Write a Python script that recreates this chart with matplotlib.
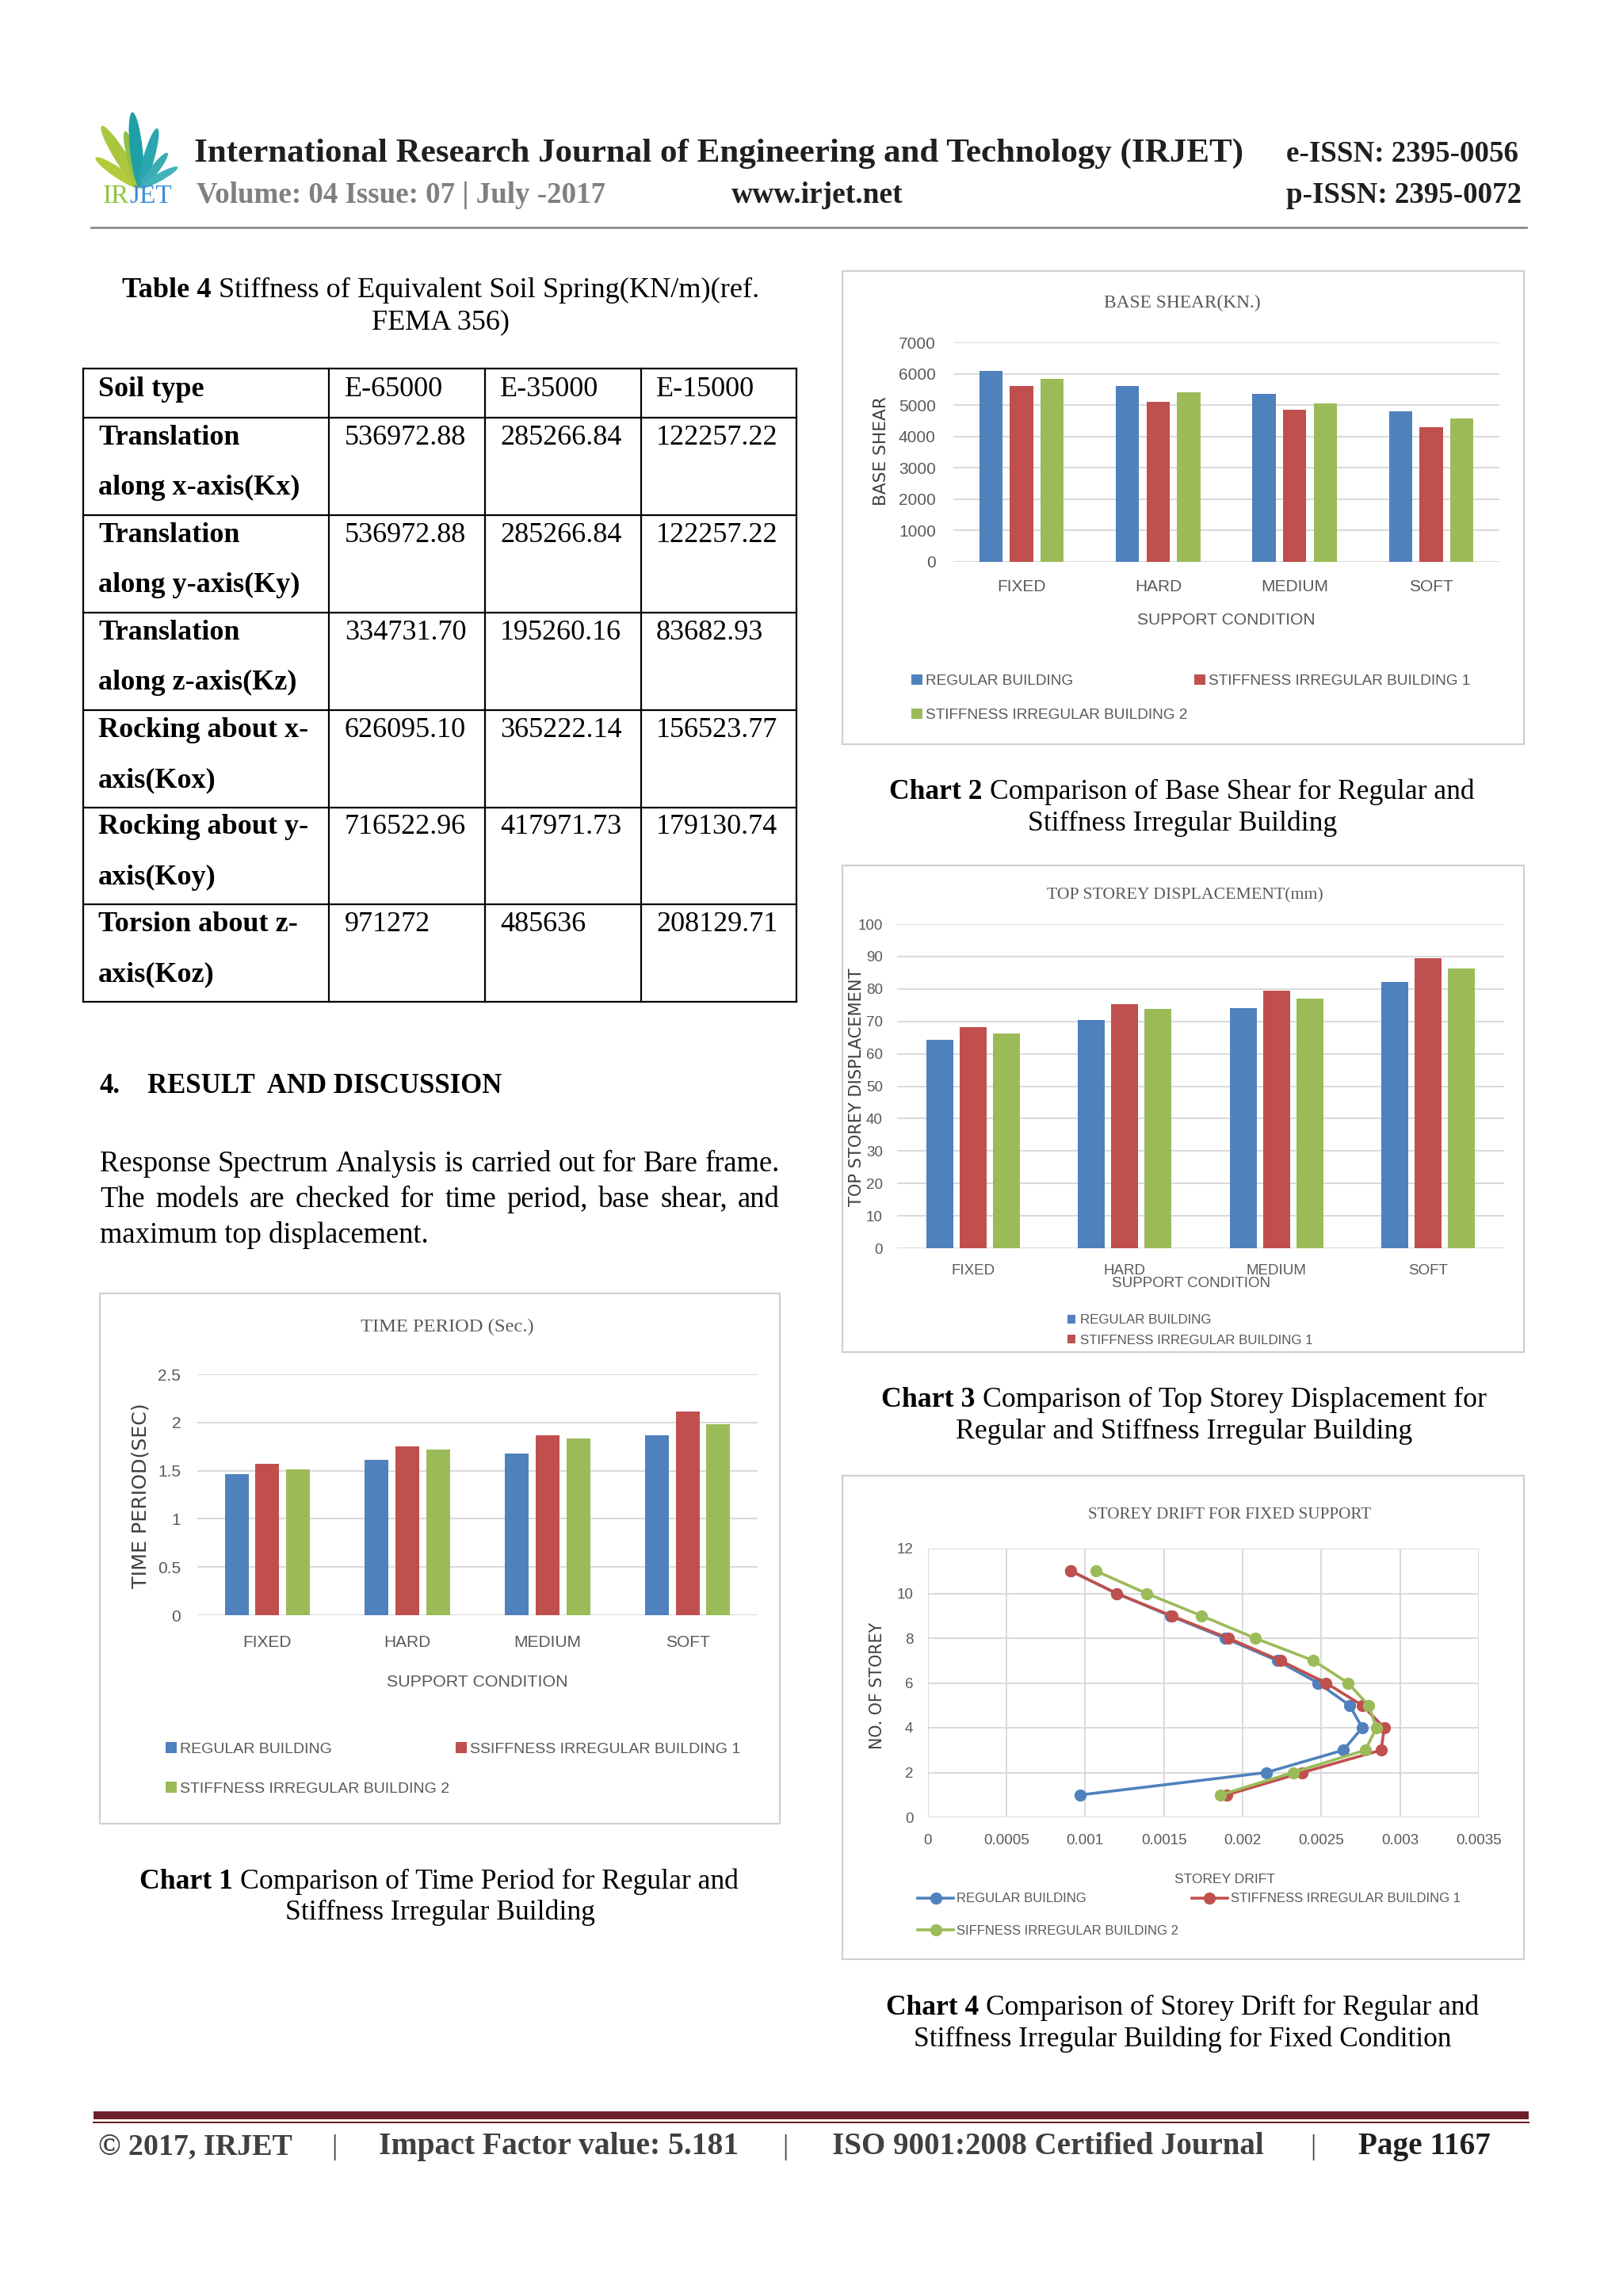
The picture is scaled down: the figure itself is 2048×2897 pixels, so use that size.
import numpy as np
import matplotlib.pyplot as plt
from matplotlib.patches import Rectangle, Ellipse
from matplotlib.lines import Line2D

plt.rcParams['font.family'] = ['Liberation Sans', 'DejaVu Sans']
SERIF = ['Liberation Serif', 'DejaVu Serif']
WIDE = ['DejaVu Sans']

# ---------------- data ----------------
categories = ['FIXED', 'HARD', 'MEDIUM', 'SOFT']

period_regular = [1.46, 1.61, 1.68, 1.87]
period_irr1 = [1.57, 1.75, 1.87, 2.11]
period_irr2 = [1.51, 1.72, 1.83, 1.98]
period_ticks = [0, 0.5, 1, 1.5, 2, 2.5]
period_labels = ['0', '0.5', '1', '1.5', '2', '2.5']

shear_regular = [6100, 5620, 5350, 4810]
shear_irr1 = [5620, 5110, 4850, 4300]
shear_irr2 = [5830, 5420, 5050, 4570]
shear_ticks = [0, 1000, 2000, 3000, 4000, 5000, 6000, 7000]

disp_regular = [64.3, 70.4, 74.1, 82.1]
disp_irr1 = [68.2, 75.4, 79.4, 89.4]
disp_irr2 = [66.2, 73.8, 77.0, 86.3]
disp_ticks = [0, 10, 20, 30, 40, 50, 60, 70, 80, 90, 100]

storeys = [1, 2, 3, 4, 5, 6, 7, 8, 9, 10, 11]
drift_regular = [0.00097, 0.00215, 0.00264, 0.00276, 0.00268, 0.00248,
                 0.00222, 0.00189, 0.00154, 0.00120, 0.00091]
drift_irr1 = [0.00190, 0.00238, 0.00288, 0.00290, 0.00276, 0.00253,
              0.00224, 0.00191, 0.00155, 0.00120, 0.00091]
drift_irr2 = [0.00186, 0.00232, 0.00278, 0.00285, 0.00280, 0.00267,
              0.00245, 0.00208, 0.00174, 0.00139, 0.00107]
drift_ticks = [0, 0.0005, 0.001, 0.0015, 0.002, 0.0025, 0.003, 0.0035]
drift_labels = ['0', '0.0005', '0.001', '0.0015', '0.002', '0.0025', '0.003', '0.0035']
storey_ticks = [0, 2, 4, 6, 8, 10, 12]

soil_header = ['Soil type', 'E-65000', 'E-35000', 'E-15000']
soil_labels = [('Translation', 'along x-axis(Kx)'),
               ('Translation', 'along y-axis(Ky)'),
               ('Translation', 'along z-axis(Kz)'),
               ('Rocking about x-', 'axis(Kox)'),
               ('Rocking about y-', 'axis(Koy)'),
               ('Torsion about z-', 'axis(Koz)')]
soil_e65 = ['536972.88', '536972.88', '334731.70', '626095.10', '716522.96', '971272']
soil_e35 = ['285266.84', '285266.84', '195260.16', '365222.14', '417971.73', '485636']
soil_e15 = ['122257.22', '122257.22', '83682.93', '156523.77', '179130.74', '208129.71']

BLUE, RED, GREEN = '#4f81bd', '#c0504d', '#9bbb59'
GRID = '#d9d9d9'
TXT = '#595959'

# ---------------- page ----------------
W, H = 2048, 2897
fig = plt.figure(figsize=(W / 100, H / 100), dpi=100)
fig.patch.set_facecolor('white')
renderer = fig.canvas.get_renderer()


def box(x0, y0, x1, y1):
    return [x0 / W, 1 - y1 / H, (x1 - x0) / W, (y1 - y0) / H]


def put(x, y, s, size=20, fit=None, **kw):
    kw.setdefault('family', SERIF)
    t = fig.text(x / W, 1 - y / H, s, fontsize=size, **kw)
    if fit:
        bb = t.get_window_extent(renderer)
        length = bb.height if kw.get('rotation') == 90 else bb.width
        t.set_fontsize(size * fit / length)
    return t


def hline(x0, x1, y, **kw):
    fig.add_artist(Line2D([x0 / W, x1 / W], [1 - y / H, 1 - y / H], **kw))


def vline(x, y0, y1, **kw):
    fig.add_artist(Line2D([x / W, x / W], [1 - y0 / H, 1 - y1 / H], **kw))


def caption(xc, y1, y2, bold, line1, line2, width):
    a = put(0, y1, bold, 20, weight='bold', va='baseline')
    b = put(0, y1, line1, 20, va='baseline')
    wa = a.get_window_extent(renderer).width
    wb = b.get_window_extent(renderer).width
    gap = 0.25 * 20 / 72 * 100
    k = width / (wa + wb + gap)
    a.set_fontsize(20 * k)
    b.set_fontsize(20 * k)
    x0 = xc - width / 2
    a.set_x(x0 / W)
    b.set_x((x0 + (wa + gap) * k) / W)
    put(xc, y2, line2, 20 * k, ha='center', va='baseline')


def justify(x0, x1, y, s, size, **kw):
    words = s.split()
    texts = [put(0, y, w, size, va='baseline', **kw) for w in words]
    widths = [t.get_window_extent(renderer).width for t in texts]
    gap = (x1 - x0 - sum(widths)) / (len(words) - 1)
    x = x0
    for t, w in zip(texts, widths):
        t.set_x(x / W)
        x += w + gap


# logo
lax = fig.add_axes(box(110, 140, 240, 242))
lax.set_xlim(110, 240)
lax.set_ylim(H - 242, H - 140)
lax.axis('off')
bx, by = 177, H - 237
leaves = [(146, 68, 13, '#b3cb3a'), (122, 92, 16, '#a9c63e'), (105, 74, 13, '#8fbf45'),
          (96, 96, 16, '#1f9fa6'), (74, 78, 14, '#2aa6ae'), (52, 56, 11, '#38adb5'),
          (29, 54, 10, '#43b3bb')]
for ang, L, w, c in leaves:
    r = np.deg2rad(ang)
    lax.add_patch(Ellipse((bx + L / 2 * np.cos(r), by + L / 2 * np.sin(r)), L, w,
                          angle=ang, color=c, lw=0))
t_ir = put(130, 256, 'IR', 18, color='#8dc63f', va='baseline')
t_jet = put(130, 256, 'JET', 18, color='#3c8ed8', va='baseline')
w_ir = t_ir.get_window_extent(renderer).width
w_jet = t_jet.get_window_extent(renderer).width
k_logo = 87 / (w_ir + w_jet)
t_ir.set_fontsize(18 * k_logo)
t_jet.set_fontsize(18 * k_logo)
t_jet.set_x((130 + w_ir * k_logo) / W)

# header
put(245, 204, 'International Research Journal of Engineering and Technology (IRJET)', 26,
    fit=1328, weight='bold', color='#1f1f1f', va='baseline')
put(1623, 204, 'e-ISSN: 2395-0056', 22, fit=292, weight='bold', color='#1f1f1f', va='baseline')
put(248, 256, 'Volume: 04 Issue: 07 | July -2017', 22, fit=516, weight='bold', color='#808080',
    va='baseline')
put(923, 256, 'www.irjet.net', 22, fit=217, weight='bold', color='#1f1f1f', va='baseline')
put(1623, 256, 'p-ISSN: 2395-0072', 22, fit=296, weight='bold', color='#1f1f1f', va='baseline')
hline(115, 1926, 287, color='#8c8c8c', lw=2)

# table
caption(556, 375, 415, 'Table 4', 'Stiffness of Equivalent Soil Spring(KN/m)(ref.', 'FEMA 356)', 804)
col_x = [105, 415, 612, 809, 1005]
row_y = [464.5, 527, 650, 773, 896, 1018.5, 1141, 1264]
text_x = [124, 435, 631, 828]
for x in col_x:
    vline(x, row_y[0], row_y[-1], color='black', lw=1.6)
for y in row_y:
    hline(col_x[0], col_x[-1], y, color='black', lw=1.6)
put(text_x[0], 500, soil_header[0], 26, weight='bold', va='baseline')
for j in range(1, 4):
    put(text_x[j], 500, soil_header[j], 26, va='baseline')
for i, (l1, l2) in enumerate(soil_labels):
    top = row_y[i + 1]
    put(text_x[0], top + 34, l1, 26, weight='bold', va='baseline')
    put(text_x[0], top + 97, l2, 26, weight='bold', va='baseline')
    for j, col in enumerate([soil_e65, soil_e35, soil_e15]):
        put(text_x[j + 1], top + 34, col[i], 26, va='baseline')

# section text
t_head = put(186, 1379, 'RESULT  AND DISCUSSION', 24, fit=448, weight='bold', va='baseline')
put(126, 1379, '4.', t_head.get_fontsize(), weight='bold', va='baseline')
p1 = 'Response Spectrum Analysis is carried out for Bare frame.'
p2 = 'The models are checked for time period, base shear, and'
p3 = 'maximum top displacement.'
probe = put(0, 0, p1, 20, fit=858)
psize = probe.get_fontsize()
probe.remove()
justify(126, 984, 1478, p1, psize)
justify(126, 984, 1523, p2, psize)
put(126, 1568, p3, psize, va='baseline')


# ---------------- charts ----------------
def frame(x0, y0, x1, y1):
    fig.add_artist(Rectangle((x0 / W, 1 - y1 / H), (x1 - x0) / W, (y1 - y0) / H,
                             transform=fig.transFigure, fill=False, ec='#d0d0d0', lw=1.6))


def style(ax, fs, ypad, xpad):
    for s in ax.spines.values():
        s.set_visible(False)
    ax.set_axisbelow(True)
    ax.patch.set_alpha(0)
    ax.tick_params(length=0, labelsize=fs, labelcolor=TXT)
    ax.tick_params(axis='y', pad=ypad)
    ax.tick_params(axis='x', pad=xpad)


def bar_chart(pos, series, ylim, yticks, ylabels, fs, ypad, xpad, width, off):
    ax = fig.add_axes(pos)
    x = np.arange(len(categories))
    bars = []
    for i, (vals, col) in enumerate(zip(series, [BLUE, RED, GREEN])):
        bars.append(ax.bar(x + (i - 1) * off, vals, width, color=col))
    ax.set_xlim(-0.5, len(categories) - 0.5)
    ax.set_ylim(*ylim)
    ax.set_yticks(yticks, ylabels)
    ax.set_xticks(x, categories)
    ax.grid(axis='y', color=GRID, lw=1.4)
    style(ax, fs, ypad, xpad)
    return ax, bars


def legend(ax, handles, labels, x, y, fs, ncol, **kw):
    ax.legend(handles, labels, loc='center left', bbox_to_anchor=(x / W, 1 - y / H),
              bbox_transform=fig.transFigure, ncol=ncol, frameon=False, borderpad=0,
              borderaxespad=0, prop={'size': fs}, labelcolor=TXT, **kw)


# chart 1: time period
frame(125.5, 1632, 984, 2301)
ax1, b1 = bar_chart(box(249, 1734, 956, 2038), [period_regular, period_irr1, period_irr2],
                    (0, 2.5), period_ticks, period_labels, 15, 15, 18, 0.17, 0.219)
put(564, 1674, 'TIME PERIOD (Sec.)', 18, fit=219, color=TXT, ha='center', va='center')
put(602, 2122, 'SUPPORT CONDITION', 15, fit=229, family=None, color=TXT, ha='center', va='center')
put(177, 1887, 'TIME PERIOD(SEC)', 15, fit=233, family=WIDE, color='#404040', rotation=90,
    ha='center', va='center')
legend(ax1, [b1[0], b1[2], b1[1]],
       ['REGULAR BUILDING', 'STIFFNESS IRREGULAR BUILDING 2', 'SSIFFNESS IRREGULAR BUILDING 1'],
       209, 2232, 14, 2, labelspacing=1.66, handlelength=0.72, handleheight=0.72,
       handletextpad=0.2, columnspacing=0.4)

# chart 2: base shear
frame(1063, 342, 1923, 939)
ax2, b2 = bar_chart(box(1203, 432, 1892, 709), [shear_regular, shear_irr1, shear_irr2],
                    (0, 7000), shear_ticks, [str(v) for v in shear_ticks], 15, 16, 15.6, 0.17, 0.224)
put(1492, 382, 'BASE SHEAR(KN.)', 18, fit=198, color=TXT, ha='center', va='center')
put(1547, 782, 'SUPPORT CONDITION', 15, fit=225, family=None, color=TXT, ha='center', va='center')
put(1112, 569, 'BASE SHEAR', 15, fit=138, family=WIDE, color='#404040', rotation=90,
    ha='center', va='center')
legend(ax2, [b2[0], b2[2], b2[1]],
       ['REGULAR BUILDING', 'STIFFNESS IRREGULAR BUILDING 2', 'STIFFNESS IRREGULAR BUILDING 1'],
       1150, 881, 13.7, 2, labelspacing=1.33, handlelength=0.72, handleheight=0.72,
       handletextpad=0.2, columnspacing=0.5)

# chart 3: top storey displacement
frame(1063, 1092, 1923, 1706)
ax3, b3 = bar_chart(box(1132, 1166, 1898, 1575), [disp_regular, disp_irr1, disp_irr2],
                    (0, 100), disp_ticks, [str(v) for v in disp_ticks], 13.5, 13, 14.4, 0.178, 0.219)
put(1495, 1130, 'TOP STOREY DISPLACEMENT(mm)', 18, fit=349, color=TXT, ha='center', va='center')
put(1503, 1619, 'SUPPORT CONDITION', 14, fit=201, family=None, color=TXT, ha='center', va='center')
put(1081, 1372, 'TOP STOREY DISPLACEMENT', 15, fit=302, family=WIDE, color='#404040', rotation=90,
    ha='center', va='center')
legend(ax3, [b3[0], b3[1]], ['REGULAR BUILDING', 'STIFFNESS IRREGULAR BUILDING 1'],
       1347, 1678.5, 12.2, 1, labelspacing=0.6, handlelength=0.6, handleheight=0.6,
       handletextpad=0.35)

# chart 4: storey drift
frame(1063, 1862, 1923, 2472)
ax4 = fig.add_axes(box(1170.5, 1954, 1866, 2293))
l1, = ax4.plot(drift_regular, storeys, color=BLUE, lw=2.6, marker='o', ms=10)
l2, = ax4.plot(drift_irr1, storeys, color=RED, lw=2.6, marker='o', ms=10)
l3, = ax4.plot(drift_irr2, storeys, color=GREEN, lw=2.6, marker='o', ms=10)
ax4.set_xlim(0, 0.0035)
ax4.set_ylim(0, 12)
ax4.set_xticks(drift_ticks, drift_labels)
ax4.set_yticks(storey_ticks, [str(v) for v in storey_ticks])
ax4.grid(True, color=GRID, lw=1.4)
style(ax4, 13.5, 13, 15)
put(1552, 1912, 'STOREY DRIFT FOR FIXED SUPPORT', 18, fit=359, color=TXT, ha='center', va='center')
put(1545, 2371, 'STOREY DRIFT', 14, fit=128, family=None, color=TXT, ha='center', va='center')
put(1107, 2127, 'NO. OF STOREY', 15, fit=161, family=WIDE, color='#404040', rotation=90,
    ha='center', va='center')
legend(ax4, [l1, l3, l2],
       ['REGULAR BUILDING', 'SIFFNESS IRREGULAR BUILDING 2', 'STIFFNESS IRREGULAR BUILDING 1'],
       1158, 2416, 12, 2, labelspacing=1.52, handlelength=2.7, handletextpad=0.25,
       columnspacing=1.0)

# captions
caption(555, 2383, 2422, 'Chart 1', 'Comparison of Time Period for Regular and',
        'Stiffness Irregular Building', 757)
caption(1492, 1008, 1048, 'Chart 2', 'Comparison of Base Shear for Regular and',
        'Stiffness Irregular Building', 739)
caption(1494, 1775, 1815, 'Chart 3', 'Comparison of Top Storey Displacement for',
        'Regular and Stiffness Irregular Building', 763)
caption(1492, 2542, 2582, 'Chart 4', 'Comparison of Storey Drift for Regular and',
        'Stiffness Irregular Building for Fixed Condition', 747)

# footer
fig.add_artist(Rectangle((118 / W, 1 - 2674 / H), (1929 - 118) / W, 10 / H,
                         transform=fig.transFigure, color='#6b2127', lw=0))
hline(118, 1929, 2678, color='#6b2127', lw=1.5)
put(124, 2718, '\u00a9 2017, IRJET', 24, fit=245, weight='bold', color='#404040', va='baseline')
put(478, 2718, 'Impact Factor value: 5.181', 24, fit=456, weight='bold', color='#404040', va='baseline')
put(1050, 2718, 'ISO 9001:2008 Certified Journal', 24, fit=545, weight='bold', color='#404040',
    va='baseline')
put(1714, 2718, 'Page 1167', 24, fit=167, weight='bold', color='#1f1f1f', va='baseline')
for x in [422, 991, 1657]:
    put(x, 2718, '|', 26, color='#404040', ha='center', va='baseline')

fig.savefig('out.png', dpi=100)
